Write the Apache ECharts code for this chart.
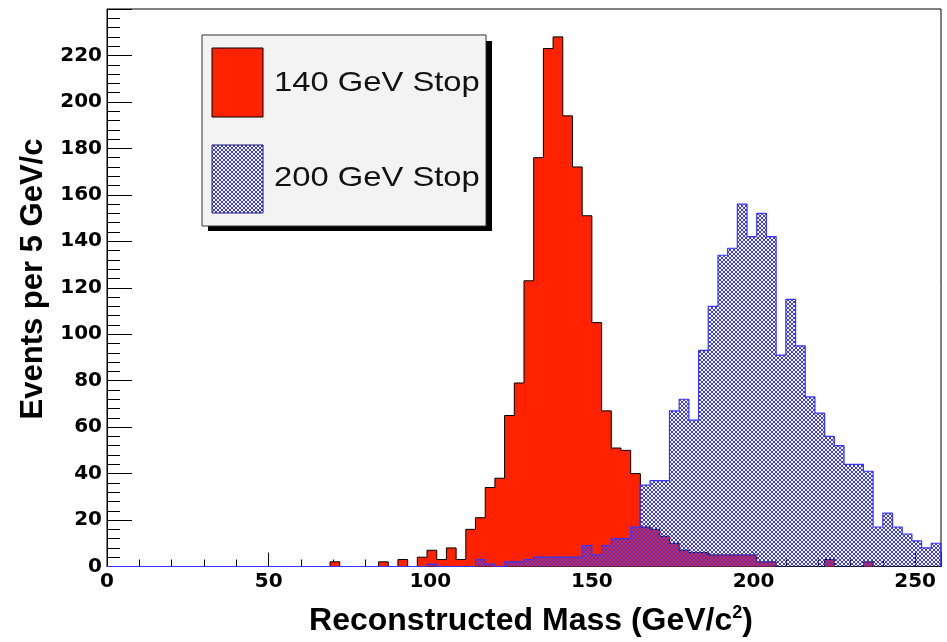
<!DOCTYPE html>
<html>
<head>
<meta charset="utf-8">
<script src="https://cdn.jsdelivr.net/npm/echarts@6/dist/echarts.min.js"></script>
<style>
  html, body { margin: 0; padding: 0; background: #ffffff; }
  #chart { width: 947px; height: 642px; }
</style>
</head>
<body>
<div id="chart"></div>
<script>
// Histogram binning (GeV/c^2)
const BIN_WIDTH = 3;
const MASS_MIN = 0;
const MASS_MAX = 258;

// Event counts per bin, 86 bins from 0 to 258
const stop140Counts = [
  0, 0, 0, 0, 0, 0, 0, 0, 0, 0,
  0, 0, 0, 0, 0, 0, 0, 0, 0, 0,
  0, 0, 0, 2, 0, 0, 0, 0, 2, 0,
  3, 0, 4, 7, 3, 8, 3, 16, 21, 34,
  38, 65, 79, 123, 176, 223, 228, 194, 172, 151,
  105, 67, 51, 50, 40, 17, 16, 13, 10, 7,
  6, 6, 5, 5, 5, 5, 5, 2, 2, 0,
  0, 0, 0, 0, 3, 0, 0, 0, 2, 0,
  0, 0, 0, 0, 0, 0
];
const stop200Counts = [
  0, 0, 0, 0, 0, 0, 0, 0, 0, 0,
  0, 0, 0, 0, 0, 0, 0, 0, 0, 0,
  0, 0, 0, 0, 0, 0, 0, 0, 0, 0,
  0, 0, 0, 1, 0, 0, 0, 0, 3, 1,
  0, 2, 2, 3, 4, 4, 4, 4, 4, 9,
  5, 9, 12, 12, 17, 35, 37, 37, 67, 72,
  63, 93, 112, 134, 137, 156, 142, 152, 142, 91,
  115, 95, 73, 66, 56, 52, 44, 44, 41, 17,
  23, 17, 14, 11, 8, 10
];

const seriesNames = ['140 GeV Stop', '200 GeV Stop'];
const xTitle = 'Reconstructed Mass (GeV/c{sup|2})';
const yTitle = 'Events per 5 GeV/c';

const RED = '#ff2200';
const BLUE = '#3535ff';
const FONT = '"Liberation Sans", Arial, Helvetica, sans-serif';
const TICK_FONT = '"DejaVu Sans", "Liberation Sans", sans-serif';

// Cross-hatch tile used for the 200 GeV fill (transparent gaps let the red show through)
function makeHatch() {
  const c = document.createElement('canvas');
  c.width = 4; c.height = 4;
  const ctx = c.getContext('2d');
  ctx.fillStyle = BLUE;
  for (let i = 0; i < 4; i++) {
    ctx.fillRect(i, i, 1, 1);
    ctx.fillRect(3 - i, i, 1, 1);
  }
  return c;
}
const hatch = makeHatch();

// Turn bin counts into step points: [lowEdge, count] ... closing at the upper edge
function toSteps(counts) {
  const pts = counts.map((c, i) => [MASS_MIN + i * BIN_WIDTH, c]);
  const hi = MASS_MIN + counts.length * BIN_WIDTH;
  pts.push([hi, counts[counts.length - 1]]);
  pts.push([hi, 0]);
  return pts;
}

const chart = echarts.init(document.getElementById('chart'), null, { renderer: 'canvas' });

const axisLabelStyle = { color: '#000', fontFamily: TICK_FONT, fontWeight: 'bold', fontSize: 20 };

chart.setOption({
  animation: false,
  backgroundColor: '#ffffff',
  grid: {
    left: 107, top: 9, width: 834, height: 569,
    show: true, borderColor: '#000', borderWidth: 1, backgroundColor: 'transparent'
  },
  xAxis: [
    {
      type: 'value', min: MASS_MIN, max: MASS_MAX, interval: 50,
      axisLine: { show: true, onZero: false, lineStyle: { color: '#000', width: 1 } },
      axisTick: { show: true, inside: true, length: 14, lineStyle: { color: '#000' } },
      minorTick: { show: false },
      splitLine: { show: false },
      axisLabel: {
        ...axisLabelStyle, margin: 5,
        formatter: v => (v % 50 === 0 ? String(v) : '')
      },
      name: xTitle,
      nameLocation: 'middle',
      nameGap: 38,
      nameTextStyle: {
        color: '#000', fontFamily: FONT, fontWeight: 'bold', fontSize: 32,
        padding: [0, 0, 0, 14],
        rich: { sup: { fontFamily: FONT, fontWeight: 'bold', fontSize: 18, verticalAlign: 'top', padding: [0, 0, 15, 0] } }
      }
    },
    {
      type: 'value', min: MASS_MIN, max: MASS_MAX, interval: 10, position: 'bottom',
      axisLine: { show: false },
      axisTick: { show: true, inside: true, length: 7, lineStyle: { color: '#000' } },
      axisLabel: { show: false },
      splitLine: { show: false }
    }
  ],
  yAxis: {
    type: 'value', min: 0, max: 240, interval: 20,
    axisLine: { show: true, lineStyle: { color: '#000', width: 1 } },
    axisTick: { show: true, inside: true, length: 25, lineStyle: { color: '#000' } },
    minorTick: { show: true, splitNumber: 5, length: 13, lineStyle: { color: '#000' } },
    splitLine: { show: false },
    axisLabel: {
      ...axisLabelStyle, margin: 5,
      formatter: v => (v < 240 ? String(v) : '')
    }
  },
  series: [
    {
      name: seriesNames[0], type: 'line', step: 'end', symbol: 'none',
      data: toSteps(stop140Counts),
      lineStyle: { color: '#000', width: 1 },
      areaStyle: { color: RED, opacity: 1, origin: 'start' },
      z: 2
    },
    {
      name: seriesNames[1], type: 'line', step: 'end', symbol: 'none',
      data: toSteps(stop200Counts),
      lineStyle: { color: BLUE, width: 1.2 },
      areaStyle: { color: { image: hatch, repeat: 'repeat' }, opacity: 1, origin: 'start' },
      z: 3
    }
  ],
  graphic: [
    // y-axis title, reading upwards
    {
      type: 'text', z: 5, x: 33, y: 279, rotation: Math.PI / 2,
      style: {
        text: yTitle, fill: '#000', font: 'bold 31px ' + FONT,
        textAlign: 'center', textVerticalAlign: 'middle'
      }
    },
    // legend box with drop shadow
    { type: 'rect', z: 10, shape: { x: 208, y: 41, width: 284, height: 190 }, style: { fill: '#000' } },
    { type: 'rect', z: 11, shape: { x: 202, y: 35, width: 284, height: 191 }, style: { fill: '#f3f3f3', stroke: '#333', lineWidth: 1 } },
    { type: 'rect', z: 12, shape: { x: 212, y: 48, width: 51, height: 69 }, style: { fill: RED, stroke: '#000', lineWidth: 1 } },
    { type: 'rect', z: 12, shape: { x: 212, y: 145, width: 51, height: 68 }, style: { fill: '#ffffff' } },
    { type: 'rect', z: 13, shape: { x: 212, y: 145, width: 51, height: 68 }, style: { fill: { image: hatch, repeat: 'repeat' }, stroke: '#1a1a66', lineWidth: 1 } },
    { type: 'text', z: 14, x: 274, y: 83, scaleX: 1.17, style: { text: seriesNames[0], fill: '#111', font: '28px ' + FONT, textVerticalAlign: 'middle' } },
    { type: 'text', z: 14, x: 274, y: 178, scaleX: 1.17, style: { text: seriesNames[1], fill: '#111', font: '28px ' + FONT, textVerticalAlign: 'middle' } }
  ]
});
</script>
</body>
</html>
